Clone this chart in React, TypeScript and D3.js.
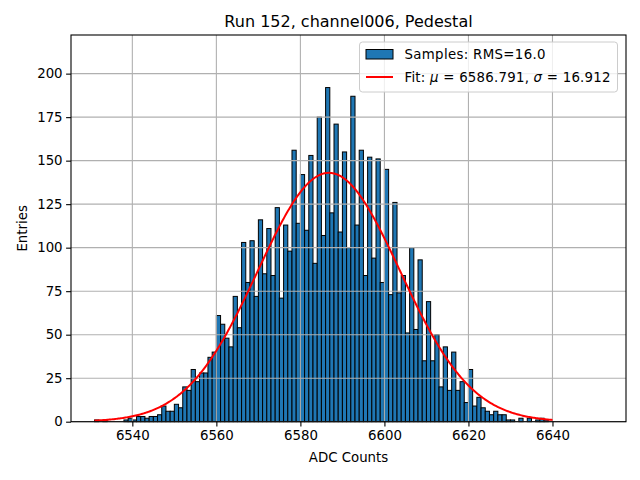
import React, { useEffect, useRef } from 'react';
import * as d3 from 'd3';

// histogram: one bin per ADC count, first bin starts at 6531
const BIN_LOW = 6531;
const COUNTS = [
  1, 0, 1, 0, 0, 0, 0, 1, 2, 1,
  3, 3, 2, 3, 3, 4, 9, 6, 6, 10,
  8, 20, 18, 30, 23, 28, 28, 37, 40, 61,
  56, 48, 43, 72, 54, 103, 80, 104, 72, 116,
  85, 111, 84, 123, 71, 113, 98, 156, 114, 142,
  110, 153, 91, 175, 107, 192, 120, 171, 109, 155,
  100, 187, 113, 156, 84, 152, 94, 151, 80, 145,
  73, 126, 74, 84, 51, 100, 53, 93, 35, 69,
  35, 50, 20, 43, 18, 40, 18, 23, 11, 30,
  9, 14, 8, 6, 4, 6, 4, 4, 1, 1,
  0, 2, 0, 2, 0, 1, 2, 1, 0,
];

const FIT_MU = 6586.791;
const FIT_SIGMA = 16.912;
const FIT_PEAK = 143;
const FIT_RANGE = [6531, 6640];

const X_TICKS = [6540, 6560, 6580, 6600, 6620, 6640];
const Y_TICKS = [0, 25, 50, 75, 100, 125, 150, 175, 200];
const X_DOMAIN = [6525.4, 6657.5];
const Y_DOMAIN = [0, 222.2];

const TITLE = 'Run 152, channel006, Pedestal';
const X_LABEL = 'ADC Counts';
const Y_LABEL = 'Entries';
const RMS_LABEL = 'Samples: RMS=16.0';

const W = 640;
const H = 480;
const FONT = 'DejaVu Sans, sans-serif';

export default function App() {
  const svgRef = useRef<SVGSVGElement>(null);

  useEffect(() => {
    const margin = { top: 35, right: 14, bottom: 58.3, left: 71 };
    const innerW = W - margin.left - margin.right;
    const innerH = H - margin.top - margin.bottom;

    const svg = d3.select(svgRef.current);
    svg.selectAll('*').remove();
    const g = svg.append('g').attr('transform', `translate(${margin.left},${margin.top})`);

    const x = d3.scaleLinear().domain(X_DOMAIN).range([0, innerW]);
    const y = d3.scaleLinear().domain(Y_DOMAIN).range([innerH, 0]);

    g.append('defs').append('clipPath').attr('id', 'plot-clip')
      .append('rect').attr('width', innerW).attr('height', innerH);

    // bars
    const bins = COUNTS.map((c, i) => ({ lo: BIN_LOW + i, count: c })).filter(d => d.count > 0);
    g.append('g').selectAll('rect').data(bins).enter().append('rect')
      .attr('x', d => x(d.lo))
      .attr('width', d => x(d.lo + 1) - x(d.lo))
      .attr('y', d => y(d.count))
      .attr('height', d => innerH - y(d.count))
      .attr('fill', '#1f77b4')
      .attr('stroke', '#000')
      .attr('stroke-width', 1);

    // grid (above patches, below the fit line, like matplotlib's default)
    const grid = g.append('g').attr('stroke', '#b0b0b0').attr('stroke-width', 1.1);
    X_TICKS.forEach(t => grid.append('line').attr('x1', x(t)).attr('x2', x(t)).attr('y1', 0).attr('y2', innerH));
    Y_TICKS.forEach(t => grid.append('line').attr('x1', 0).attr('x2', innerW).attr('y1', y(t)).attr('y2', y(t)));

    // gaussian fit
    const fitPts = d3.range(0, 401).map(i => {
      const v = FIT_RANGE[0] + (FIT_RANGE[1] - FIT_RANGE[0]) * i / 400;
      return [v, FIT_PEAK * Math.exp(-0.5 * ((v - FIT_MU) / FIT_SIGMA) ** 2)];
    });
    g.append('path').datum(fitPts)
      .attr('d', d3.line<number[]>().x(d => x(d[0])).y(d => y(d[1])))
      .attr('fill', 'none').attr('stroke', 'red').attr('stroke-width', 2)
      .attr('clip-path', 'url(#plot-clip)');

    // spines
    g.append('rect').attr('width', innerW).attr('height', innerH)
      .attr('fill', 'none').attr('stroke', '#000').attr('stroke-width', 1.1);

    // axes
    const xAxis = g.append('g').attr('transform', `translate(0,${innerH})`)
      .call(d3.axisBottom(x).tickValues(X_TICKS).tickFormat(d3.format('d')).tickSize(4.9).tickPadding(3.5));
    const yAxis = g.append('g')
      .call(d3.axisLeft(y).tickValues(Y_TICKS).tickFormat(d3.format('d')).tickSize(4.9).tickPadding(3.5));
    [xAxis, yAxis].forEach(a => {
      a.select('.domain').remove();
      a.selectAll('line').attr('stroke', '#000').attr('stroke-width', 1.1);
      a.selectAll('text').attr('fill', '#000').style('font-family', FONT).style('font-size', '13.33px');
    });

    svg.append('text').attr('x', margin.left + innerW / 2).attr('y', 27)
      .attr('text-anchor', 'middle').style('font-family', FONT).style('font-size', '16px').text(TITLE);
    svg.append('text').attr('x', margin.left + innerW / 2).attr('y', 462)
      .attr('text-anchor', 'middle').style('font-family', FONT).style('font-size', '13.33px').text(X_LABEL);
    svg.append('text').attr('transform', `translate(27,${margin.top + innerH / 2}) rotate(-90)`)
      .attr('text-anchor', 'middle').style('font-family', FONT).style('font-size', '13.33px').text(Y_LABEL);

    // legend
    const lg = svg.append('g').attr('transform', 'translate(359.5,42)');
    lg.append('rect').attr('width', 258).attr('height', 50).attr('rx', 3)
      .attr('fill', 'white').attr('fill-opacity', 0.8).attr('stroke', '#cccccc').attr('stroke-width', 1);
    lg.append('rect').attr('x', 6.5).attr('y', 7.5).attr('width', 27).attr('height', 9.5)
      .attr('fill', '#1f77b4').attr('stroke', '#000').attr('stroke-width', 1);
    lg.append('text').attr('x', 45).attr('y', 17).attr('textLength', 141).attr('lengthAdjust', 'spacing')
      .style('font-family', FONT).style('font-size', '13.33px').text(RMS_LABEL);
    lg.append('line').attr('x1', 6.5).attr('x2', 33.5).attr('y1', 35).attr('y2', 35)
      .attr('stroke', 'red').attr('stroke-width', 2);
    const fitText = lg.append('text').attr('x', 45).attr('y', 40)
      .attr('textLength', 206).attr('lengthAdjust', 'spacing')
      .style('font-family', FONT).style('font-size', '13.33px');
    fitText.append('tspan').text('Fit: ');
    fitText.append('tspan').style('font-style', 'italic').text('μ');
    fitText.append('tspan').text(` = ${FIT_MU.toFixed(3)}, `);
    fitText.append('tspan').style('font-style', 'italic').text('σ');
    fitText.append('tspan').text(` = ${FIT_SIGMA.toFixed(3)}`);
  }, []);

  return (
    <svg ref={svgRef} width={W} height={H}
      style={{ position: 'absolute', left: 0, top: 0, background: 'white' }} />
  );
}
